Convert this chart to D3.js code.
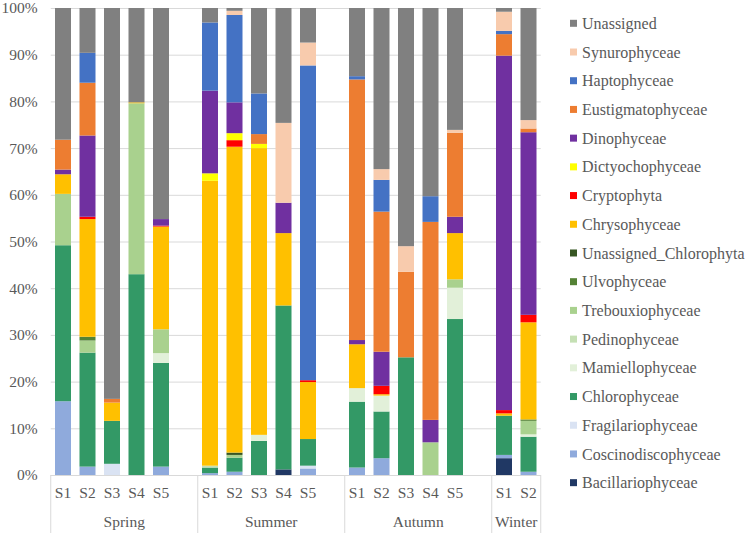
<!DOCTYPE html>
<html><head><meta charset="utf-8">
<script src="https://cdn.jsdelivr.net/npm/d3@7/dist/d3.min.js"></script>
<style>
html,body{margin:0;padding:0;background:#fff;}
svg{display:block;}
</style></head>
<body>
<svg id="chart" width="746" height="534"></svg>
<script>
// ---------- DATA ----------
const seasons = ["Spring", "Summer", "Autumn", "Winter"];
const seasonSites = [["S1","S2","S3","S4","S5"],["S1","S2","S3","S4","S5"],["S1","S2","S3","S4","S5"],["S1","S2"]];
const yTicks = [0,10,20,30,40,50,60,70,80,90,100];

// stack order bottom -> top
const seriesNames = ["Bacillariophyceae","Coscinodiscophyceae","Fragilariophyceae","Chlorophyceae","Mamiellophyceae","Pedinophyceae","Trebouxiophyceae","Ulvophyceae","Unassigned_Chlorophyta","Chrysophyceae","Cryptophyta","Dictyochophyceae","Dinophyceae","Eustigmatophyceae","Haptophyceae","Synurophyceae","Unassigned"];
const seriesColors = ["#203864","#8FAADC","#DAE3F3","#339966","#E2F0D9","#C5E0B4","#A9D18E","#548235","#375623","#FFC000","#FF0000","#FFFF00","#7030A0","#ED7D31","#4472C4","#F8CBAD","#808080"];

// samples: Spring S1-S5, Summer S1-S5, Autumn S1-S5, Winter S1-S2
const Bacillariophyceae      = [0,0,0,0,0,        0,0,0,1.2,0,          0,0,0,0,0,            3.6,0];
const Coscinodiscophyceae    = [15.8,1.8,0,0,1.8, 0.4,0.7,0,0,1.4,      1.6,3.6,0,0,0,        0.7,0.7];
const Fragilariophyceae      = [0,0,2.4,0,0,      0,0,0,0,0.6,          0,0,0,0,0,            0,0];
const Chlorophyceae          = [33.4,24.4,9.2,43.0,22.2, 1.2,3.0,7.3,35.1,5.7, 14.1,10.0,25.2,0,33.4, 8.4,7.5];
const Mamiellophyceae        = [0,0,0,0,2.1,      0,0,1.3,0,0,          2.9,3.4,0,0,6.7,      0,0.5];
const Pedinophyceae          = [0,0,0,0,0,        0.4,0,0,0,0,          0,0,0,0,0,            0,0];
const Trebouxiophyceae       = [11.0,2.6,0,36.6,5.1, 0,0.6,0,0,0,       0,0,0,7.0,1.8,        0,2.9];
const Ulvophyceae            = [0,0.8,0,0,0,      0,0,0,0,0,            0,0,0,0,0,            0,0.3];
const Unassigned_Chlorophyta = [0,0,0,0,0,        0,0.5,0,0,0,          0,0,0,0,0,            0,0];
const Chrysophyceae          = [4.2,25.2,3.9,0.2,22.0, 61.0,65.5,61.4,15.5,12.2, 9.4,0.3,0,0,9.9, 0.5,20.8];
const Cryptophyta            = [0,0.5,0,0,0.2,    0,1.4,0,0,0.4,        0,1.8,0,0,0,          0.7,1.6];
const Dictyochophyceae       = [0,0,0,0,0,        1.6,1.5,0.9,0,0,      0,0,0,0,0,            0,0];
const Dinophyceae            = [1.0,17.4,0,0,1.4, 17.7,6.6,0,6.5,0,     0.9,7.3,0,4.8,3.5,    75.9,39.1];
const Eustigmatophyceae      = [6.4,11.3,0.8,0,0, 0,0,2.1,0,0,          55.8,30.0,18.3,42.4,18.0, 4.6,0.8];
const Haptophyceae           = [0,6.4,0,0,0,      14.6,18.7,8.7,0,67.4, 0.7,6.8,0,5.5,0,      0.7,0];
const Synurophyceae          = [0,0,0,0,0,        0,0.9,0,17.1,4.9,     0,2.3,5.5,0,0.6,      4.1,1.8];
const Unassigned             = [28.2,9.6,83.7,20.2,45.2, 3.1,0.6,18.3,24.6,7.4, 14.6,34.5,51.0,40.3,26.1, 0.8,24.0];

const seriesValues = [Bacillariophyceae,Coscinodiscophyceae,Fragilariophyceae,Chlorophyceae,Mamiellophyceae,Pedinophyceae,Trebouxiophyceae,Ulvophyceae,Unassigned_Chlorophyta,Chrysophyceae,Cryptophyta,Dictyochophyceae,Dinophyceae,Eustigmatophyceae,Haptophyceae,Synurophyceae,Unassigned];

// ---------- BUILD ----------
const FONT = "'Liberation Serif', monospace";
const TXT = "#595959";
const samples = [];
const slots = [];
seasons.forEach((s, i) => {
  seasonSites[i].forEach(site => { samples.push({key: s + "|" + site, season: s, site}); slots.push(s + "|" + site); });
  if (i < seasons.length - 1) slots.push(s + "|gap");
});
const rows = samples.map((smp, j) => {
  const r = {key: smp.key};
  seriesNames.forEach((n, k) => r[n] = seriesValues[k][j]);
  return r;
});

const svg = d3.select("#chart");
const pLeft = 50.75, pRight = 540.75, pTop = 8, pBottom = 475;

const x = d3.scaleBand().domain(slots).range([pLeft, pRight]).paddingInner(0.347).paddingOuter(0.1735);
const y = d3.scaleLinear().domain([0, 100]).range([pBottom, pTop]);

// gridlines
svg.append("g").attr("transform", `translate(${pLeft},0)`)
  .call(d3.axisLeft(y).tickValues(yTicks).tickSize(-(pRight - pLeft)).tickFormat(""))
  .call(g => g.select(".domain").remove())
  .call(g => g.selectAll("line").attr("stroke", "#d9d9d9").attr("stroke-width", 1));

// y labels
svg.append("g").attr("transform", `translate(${pLeft},0)`)
  .call(d3.axisLeft(y).tickValues(yTicks).tickSize(0).tickPadding(13).tickFormat(d => d + "%"))
  .call(g => g.select(".domain").remove())
  .call(g => g.attr("font-family", null).attr("font-size", null))
  .call(g => g.selectAll("text").attr("fill", TXT).style("font-family", FONT).style("font-size", "15.5px"));

// bars
const stack = d3.stack().keys(seriesNames);
const layers = stack(rows);
svg.append("g").selectAll("g").data(layers).join("g")
  .attr("fill", (d, i) => seriesColors[i])
  .selectAll("rect").data(d => d.filter(p => p[1] - p[0] > 0)).join("rect")
  .attr("x", d => x(d.data.key))
  .attr("width", x.bandwidth())
  .attr("y", d => y(d[1]))
  .attr("height", d => y(d[0]) - y(d[1]));

// x axis line
svg.append("line").attr("x1", pLeft).attr("x2", pRight).attr("y1", pBottom + 0.5).attr("y2", pBottom + 0.5)
  .attr("stroke", "#d9d9d9");

// site labels
svg.append("g").attr("transform", `translate(0,${pBottom})`)
  .call(d3.axisBottom(x).tickValues(samples.map(s => s.key)).tickSize(0).tickPadding(12)
      .tickFormat(k => k.split("|")[1]))
  .call(g => g.select(".domain").remove())
  .call(g => g.attr("font-family", null).attr("font-size", null))
  .call(g => g.selectAll("text").attr("fill", TXT).style("font-family", FONT).style("font-size", "15.5px"));

// season group separators and labels
const step = x.step();
const bounds = [pLeft];
let acc = 0;
seasons.forEach((s, i) => {
  acc += seasonSites[i].length + (i < seasons.length - 1 ? 1 : 0);
  bounds.push(pLeft + acc * step);
});
svg.append("g").selectAll("line").data(bounds).join("line")
  .attr("x1", d => d).attr("x2", d => d).attr("y1", pBottom).attr("y2", 533)
  .attr("stroke", "#d9d9d9");
svg.append("g").selectAll("text").data(seasons).join("text")
  .attr("x", (d, i) => (bounds[i] + bounds[i + 1]) / 2)
  .attr("y", 527)
  .attr("text-anchor", "middle")
  .attr("fill", TXT)
  .style("font-family", FONT).style("font-size", "15.5px")
  .text(d => d);

// legend (top -> bottom = reverse stack order)
const legendItems = seriesNames.map((n, i) => ({name: n, color: seriesColors[i]})).reverse();
const lg = svg.append("g").selectAll("g").data(legendItems).join("g")
  .attr("transform", (d, i) => `translate(570,${23.3 + i * 28.71})`);
lg.append("rect").attr("x", 0).attr("y", -3.5).attr("width", 7).attr("height", 7).attr("fill", d => d.color);
lg.append("text").attr("x", 12).attr("y", 0).attr("dy", "0.35em")
  .attr("fill", TXT).style("font-family", FONT).style("font-size", "16px").text(d => d.name);
</script>
</body></html>
